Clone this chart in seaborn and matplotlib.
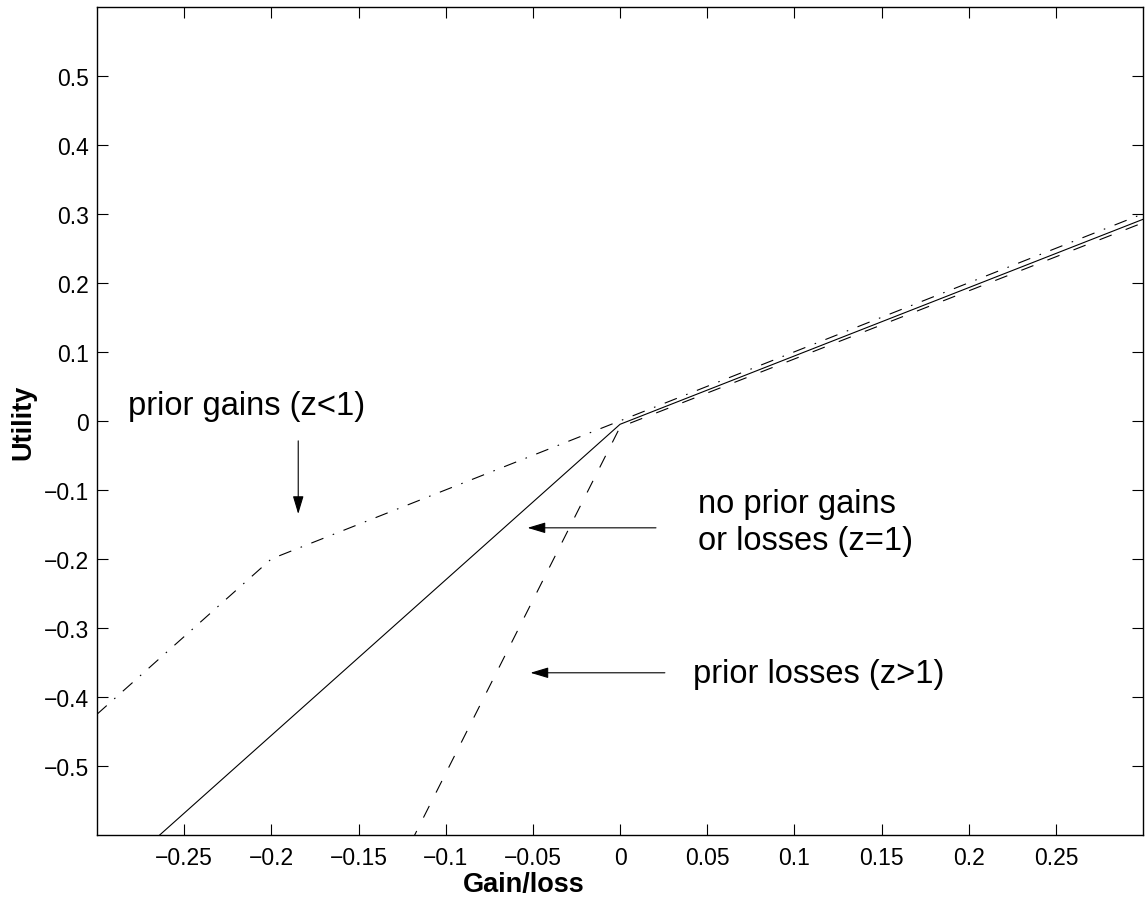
import numpy as np
import pandas as pd
import matplotlib
matplotlib.use("Agg")
import matplotlib.pyplot as plt
import seaborn as sns

# curves (gain/loss -> utility)
gains_x = [-0.3, -0.2, 0.0, 0.3]
gains_y = [-0.425, -0.2, 0.0, 0.3]

neutral_x = [-0.3, 0.0, 0.3]
neutral_y = [-0.681, -0.005, 0.292]

losses_x = [-0.12, 0.0, 0.3]
losses_y = [-0.611, -0.009, 0.287]

x_ticks = [-0.25, -0.2, -0.15, -0.1, -0.05, 0, 0.05, 0.1, 0.15, 0.2, 0.25]
y_ticks = [-0.5, -0.4, -0.3, -0.2, -0.1, 0, 0.1, 0.2, 0.3, 0.4, 0.5]
x_tick_labels = ["\u22120.25", "\u22120.2", "\u22120.15", "\u22120.1", "\u22120.05",
                 "0", "0.05", "0.1", "0.15", "0.2", "0.25"]
y_tick_labels = ["\u22120.5", "\u22120.4", "\u22120.3", "\u22120.2", "\u22120.1",
                 "0", "0.1", "0.2", "0.3", "0.4", "0.5"]

# labels: (text, x, baseline y)
notes = ["prior gains (z<1)", "no prior gains", "or losses (z=1)", "prior losses (z>1)"]
notes_x = [-0.2823, 0.0446, 0.0446, 0.0417]
notes_y = [0.0101, -0.132, -0.1855, -0.378]

# arrows: start -> tip
arrow_from = [(-0.1846, -0.029), (0.0206, -0.155), (0.0257, -0.365)]
arrow_to = [(-0.1846, -0.135), (-0.0531, -0.155), (-0.0514, -0.365)]

df = pd.concat([
    pd.DataFrame({"x": gains_x, "y": gains_y, "curve": "gains"}),
    pd.DataFrame({"x": neutral_x, "y": neutral_y, "curve": "neutral"}),
    pd.DataFrame({"x": losses_x, "y": losses_y, "curve": "losses"}),
], ignore_index=True)

sns.set_style("ticks")
plt.rcParams["font.family"] = ["Liberation Sans", "DejaVu Sans"]
plt.rcParams["text.color"] = "black"
plt.rcParams["axes.labelcolor"] = "black"

fig = plt.figure(figsize=(11.47, 9.03), dpi=100)
ax = fig.add_axes([0.0846, 0.0742, 0.912, 0.9173])

line_dashes = {"gains": (11.7, 9, 1.4, 9), "neutral": "", "losses": (11.7, 13.5)}
sns.lineplot(data=df, x="x", y="y", style="curve", dashes=line_dashes,
             color="black", lw=0.8, estimator=None, sort=False,
             legend=False, ax=ax)

ax.set_xlim(-0.3, 0.3)
ax.set_ylim(-0.6, 0.6)
ax.set_xticks(x_ticks)
ax.set_xticklabels(x_tick_labels)
ax.set_yticks(y_ticks)
ax.set_yticklabels(y_tick_labels)

for s in ax.spines.values():
    s.set_visible(True)
    s.set_color("black")
    s.set_linewidth(1.0)
ax.tick_params(axis="both", direction="in", length=8, width=0.8, colors="black",
               labelsize=16.5, top=True, right=True)
ax.tick_params(axis="x", pad=8)
ax.tick_params(axis="y", pad=6)

ax.set_xlabel("Gain/loss", fontsize=19.5, fontweight="bold", va="center", color="black")
ax.set_ylabel("Utility", fontsize=19.5, fontweight="bold", va="center", color="black")
ax.xaxis.set_label_coords(0.408, -0.0595)
ax.yaxis.set_label_coords(-0.0707, 0.5)

for txt, tx, ty in zip(notes, notes_x, notes_y):
    ax.text(tx, ty, txt, fontsize=23.5, ha="left", va="baseline", color="black")

for start, tip in zip(arrow_from, arrow_to):
    ax.annotate("", xy=tip, xytext=start,
                arrowprops=dict(arrowstyle="-|>,head_length=1.1,head_width=0.33",
                                mutation_scale=10, color="black", lw=0.8,
                                shrinkA=0, shrinkB=0))

fig.savefig("out.png", dpi=100, facecolor="white")
